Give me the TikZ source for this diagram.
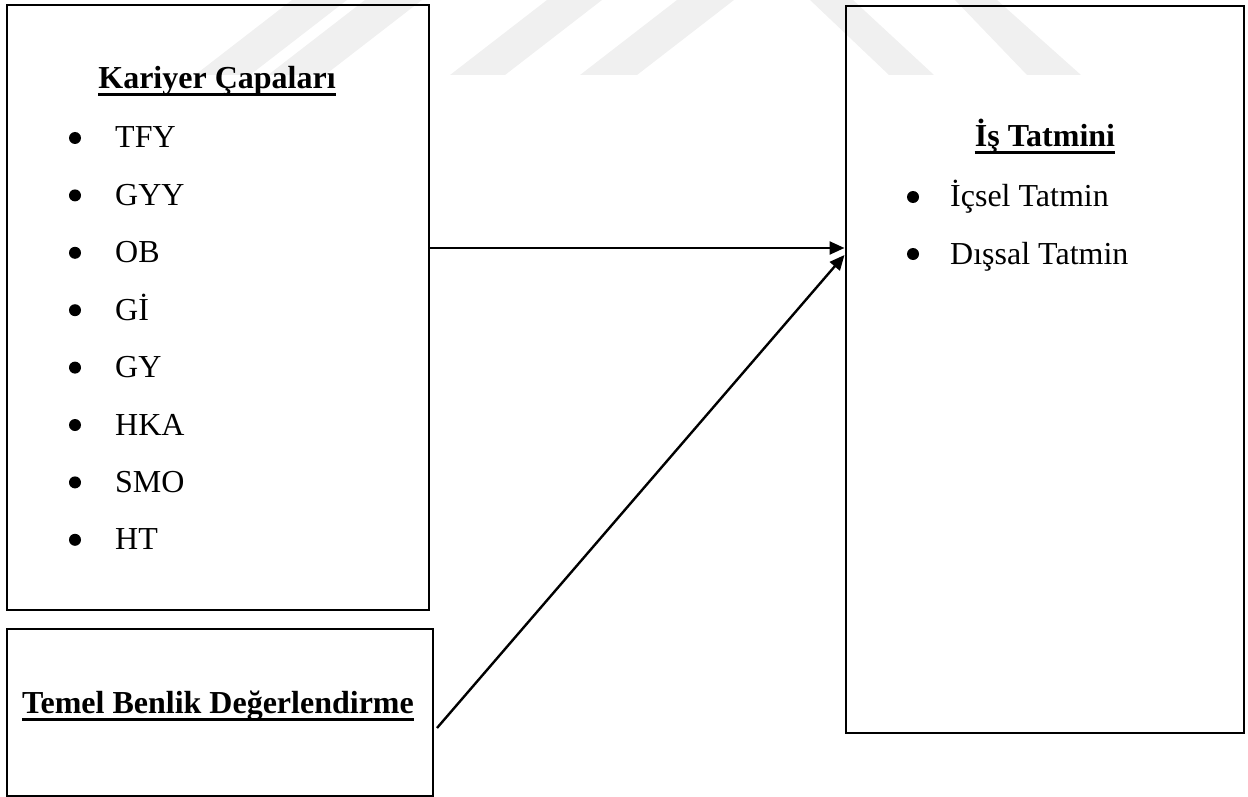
\documentclass[tikz,border=0pt]{standalone}
\usepackage{fontspec}
\setmainfont{Liberation Serif}
\usetikzlibrary{arrows.meta}

\tikzset{
  box/.style={draw=black, line width=2pt, rectangle, inner sep=0pt},
  heading/.style={anchor=base, inner sep=0pt, font=\fontsize{32}{38}\selectfont\bfseries},
  entry/.style={anchor=base west, inner sep=0pt, font=\fontsize{32}{38}\selectfont},
  dot/.style={circle, fill=black, inner sep=0pt, minimum size=12pt},
  uline/.style={line width=3pt},
  link/.style={line width=2.4pt, -{Triangle[length=15pt,width=13pt]}},
  stripe/.style={fill=black!6, draw=none}
}

\begin{document}
\begin{tikzpicture}[x=1pt, y=-1pt]
  \useasboundingbox (0,0) rectangle (1248,797);

  % faint background emblem stripes
  \fill[stripe] (195,75) -- (250,75) -- (347,0) -- (292,0) -- cycle;
  \fill[stripe] (268,75) -- (325,75) -- (422,0) -- (365,0) -- cycle;
  \fill[stripe] (450,75) -- (505,75) -- (602,0) -- (547,0) -- cycle;
  \fill[stripe] (580,75) -- (637,75) -- (734,0) -- (677,0) -- cycle;
  \fill[stripe] (810,0) -- (853,0) -- (934,75) -- (889,75) -- cycle;
  \fill[stripe] (955,0) -- (997,0) -- (1081,75) -- (1027,75) -- cycle;

  % boxes
  \node[box, minimum width=422pt, minimum height=605pt] (b1) at (218,307.5) {};
  \node[box, minimum width=426pt, minimum height=167pt] (b2) at (220,712.5) {};
  \node[box, minimum width=398pt, minimum height=727pt] (b3) at (1044.5,369.5) {};

  % Kariyer Çapaları
  \node[heading] (t1) at (217,89) {Kariyer Çapaları};
  \draw[uline] ([yshift=-5.5pt]t1.base west) -- ([yshift=-5.5pt]t1.base east);
  \foreach \lbl [count=\i from 0] in {TFY,GYY,OB,Gİ,GY,HKA,SMO,HT}{
    \node[dot] (d\i) at (75,138+57.4*\i) {};
    \node[entry] (e\i) at (115,148+57.4*\i) {\lbl};
  }

  % Temel Benlik Değerlendirme
  \node[heading] (t2) at (218,713) {Temel Benlik Değerlendirme};
  \draw[uline] ([yshift=-6pt]t2.base west) -- ([yshift=-6pt]t2.base east);

  % İş Tatmini
  \node[heading] (t3) at (1045,147) {İş Tatmini};
  \draw[uline] ([yshift=-5.5pt]t3.base west) -- ([yshift=-5.5pt]t3.base east);
  \node[dot] (f0) at (913,197) {};
  \node[entry] (g0) at (950,207) {İçsel Tatmin};
  \node[dot] (f1) at (913,254) {};
  \node[entry] (g1) at (950,264) {Dışsal Tatmin};

  % connectors
  \coordinate (s2) at (437,728);
  \draw[link] (b1.east |- 0,248) -- (b3.west |- 0,248);
  \draw[link] (s2) -- (b3.west |- 0,255);
\end{tikzpicture}
\end{document}
